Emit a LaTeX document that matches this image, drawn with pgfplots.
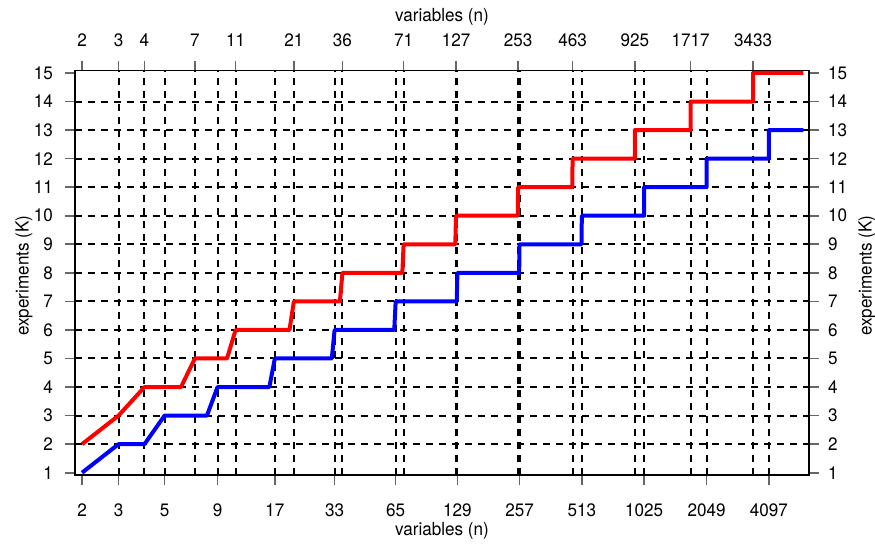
\documentclass[border=0pt]{standalone}
\usepackage{fontspec}
\setmainfont{TeX Gyre Heros}[FakeStretch=0.95]
\usepackage{pgfplots}
\pgfplotsset{compat=1.18}

\pgfplotsset{
  baseaxis/.style={
    scale only axis,
    width=367pt, height=202.15pt,
    xmin=1.85, xmax=6388,
    ymin=0.92, ymax=15.08,
    ytick={1,...,15},
    axis line style={black, line width=0.8pt},
    tick align=outside,
    major tick length=5pt,
    minor tick length=0pt,
    major tick style={black!60, line width=0.8pt},
    minor grid style={black, line width=1pt, dash pattern=on 3.5pt off 3pt},
    tick label style={font=\fontsize{9}{10}\selectfont},
    label style={font=\fontsize{9}{10}\selectfont},
    /pgf/number format/assume math mode=true,
  },
}

\begin{document}
\begin{tikzpicture}
% top and right side
\begin{semilogxaxis}[baseaxis,
    xtick={2,3,4,7,11,21,36,71,127,253,463,925,1717,3433},
    xticklabels={2,3,4,7,11,21,36,71,127,253,463,925,1717,3433},
    minor xtick={3,4,7,11,21,36,71,127,253,463,925,1717,3433},
    xminorgrids=true,
    xtick pos=upper, xticklabel pos=upper,
    ytick pos=right, yticklabel pos=right,
    xticklabel style={yshift=3.5pt},
    yticklabel style={xshift=1pt},
    xlabel={variables (n)},
    ylabel={experiments (K)},
    xlabel style={at={(axis description cs:0.5,1.1328)}, anchor=center},
    ylabel style={at={(axis description cs:1.079,0.493)}, anchor=center},
  ]
\end{semilogxaxis}
% bottom and left side, with the data
\begin{semilogxaxis}[baseaxis,
    xtick={2,3,5,9,17,33,65,129,257,513,1025,2049,4097},
    xticklabels={2,3,5,9,17,33,65,129,257,513,1025,2049,4097},
    minor xtick={3,5,9,17,33,65,129,257,513,1025,2049,4097},
    minor ytick={2,...,14},
    xminorgrids=true, yminorgrids=true,
    xtick pos=lower, xticklabel pos=lower,
    ytick pos=left, yticklabel pos=left,
    xticklabel style={yshift=-6pt},
    yticklabel style={xshift=-2.5pt},
    xlabel={variables (n)},
    ylabel={experiments (K)},
    xlabel style={at={(axis description cs:0.5,-0.1385)}, anchor=center},
    ylabel style={at={(axis description cs:-0.0695,0.493)}, anchor=center},
  ]
\addplot[red, line width=2pt, line join=round] coordinates {
  (2,2) (3,3) (4,4) (6,4) (7,5) (10,5) (11,6) (20,6) (21,7) (35,7)
  (36,8) (70,8) (71,9) (126,9) (127,10) (252,10) (253,11) (462,11)
  (463,12) (924,12) (925,13) (1716,13) (1717,14) (3432,14) (3433,15) (6000,15)
};
\addplot[blue, line width=2pt, line join=round] coordinates {
  (2,1) (3,2) (4,2) (5,3) (8,3) (9,4) (16,4) (17,5) (32,5) (33,6)
  (64,6) (65,7) (128,7) (129,8) (256,8) (257,9) (512,9) (513,10)
  (1024,10) (1025,11) (2048,11) (2049,12) (4096,12) (4097,13) (6000,13)
};
\end{semilogxaxis}
\pgfresetboundingbox
\path[use as bounding box] ([shift={(-37.5pt,-34.5pt)}]current axis.south west)
  rectangle ([shift={(33pt,35.35pt)}]current axis.north east);
\end{tikzpicture}
\end{document}
